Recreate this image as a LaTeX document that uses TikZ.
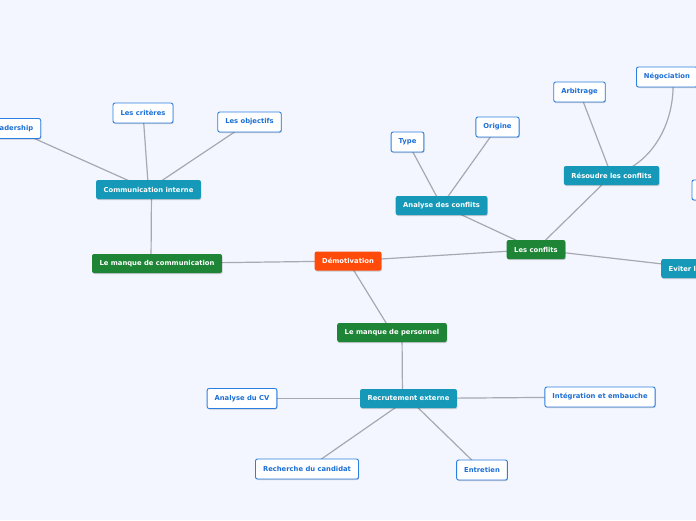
\documentclass[tikz,border=0pt]{standalone}
\usepackage{fontspec}
\setmainfont{DejaVu Sans}
\usepackage{tikz}
\usetikzlibrary{backgrounds, shadows}
\definecolor{mapPaper}{HTML}{F3F6FE}
\definecolor{mapLine}{HTML}{A6A9B0}
\definecolor{rootOrange}{HTML}{FF4A0A}
\definecolor{topicGreen}{HTML}{1E8537}
\definecolor{subTeal}{HTML}{1699B8}
\definecolor{leafBlue}{HTML}{2B7FE0}
\definecolor{leafText}{HTML}{1C6FD6}

\begin{document}
\begin{tikzpicture}[x=1pt, y=-1pt, font=\fontsize{6.8}{8}\selectfont\bfseries,
  box/.style={rounded corners=2pt, inner xsep=7.5pt, inner ysep=0pt, minimum height=19pt,
    drop shadow={shadow xshift=0.6pt, shadow yshift=-1pt, fill=black, opacity=0.18}},
  root/.style={box, fill=rootOrange, text=white},
  topic/.style={box, fill=topicGreen, text=white},
  subtopic/.style={box, fill=subTeal, text=white},
  leaf/.style={box, fill=white, draw=leafBlue, line width=0.9pt, text=leafText, minimum height=20pt},
  link/.style={draw=mapLine, line width=1.2pt}]

\useasboundingbox (0,0) rectangle (696,520);

% centre
\node[root] (demo) at (348,261) {Démotivation};

% communication
\node[topic] (comm) at (157,263.5) {Le manque de communication};
\node[subtopic] (inter) at (148.5,189.5) {Communication interne};
\node[leaf] (lead) at (12,128.5) {Leadership};
\node[leaf] (crit) at (143,113) {Les critères};
\node[leaf] (obj) at (249.5,122) {Les objectifs};

% conflits
\node[topic] (conf) at (536,249.5) {Les conflits};
\node[subtopic] (ana) at (441.5,205.5) {Analyse des conflits};
\node[leaf] (type) at (407.5,142) {Type};
\node[leaf] (orig) at (497.5,127) {Origine};
\node[subtopic] (reso) at (611.5,175.5) {Résoudre les conflits};
\node[leaf] (arb) at (579.5,92) {Arbitrage};
\node[leaf, anchor=west] (nego) at (636,77) {Négociation};
\node[subtopic, anchor=west] (evit) at (661,268.5) {Eviter les conflits};
\node[leaf, anchor=west, minimum width=40pt] (cut) at (691.5,190) {};

% personnel
\node[topic] (pers) at (392,332.5) {Le manque de personnel};
\node[subtopic] (recr) at (408.5,398.5) {Recrutement externe};
\node[leaf] (cv) at (242,398.5) {Analyse du CV};
\node[leaf] (integ) at (600,397) {Intégration et embauche};
\node[leaf] (cand) at (307,469) {Recherche du candidat};
\node[leaf] (entr) at (482,470) {Entretien};

\begin{scope}[on background layer]
\fill[mapPaper] (0,0) rectangle (696,520);
\draw[link] (demo.center) -- (comm.center);
\draw[link] (demo.center) -- (conf.center);
\draw[link] (demo.center) -- (pers.center);
\draw[link] ([xshift=3pt]inter.center) -- ([xshift=-6pt]comm.center);
\draw[link] (inter.center) -- (lead.center);
\draw[link] (inter.center) -- (crit.center);
\draw[link] (inter.center) -- (obj.center);
\draw[link] (conf.center) -- (ana.center);
\draw[link] (ana.center) -- (type.center);
\draw[link] (ana.center) -- (orig.center);
\draw[link] (conf.center) -- (reso.center);
\draw[link] (reso.center) -- (arb.center);
\draw[link] (reso.center) .. controls (650,166) and (676,125) .. ([xshift=6pt]nego.center);
\draw[link] (conf.center) -- (evit.center);
\draw[link] ([xshift=10pt]pers.center) .. controls (402,365) .. ([xshift=-6pt]recr.center);
\draw[link] (recr.center) -- (cv.center);
\draw[link] (recr.center) -- (integ.center);
\draw[link] (recr.center) -- (cand.center);
\draw[link] (recr.center) -- (entr.center);
\end{scope}

\end{tikzpicture}
\end{document}
